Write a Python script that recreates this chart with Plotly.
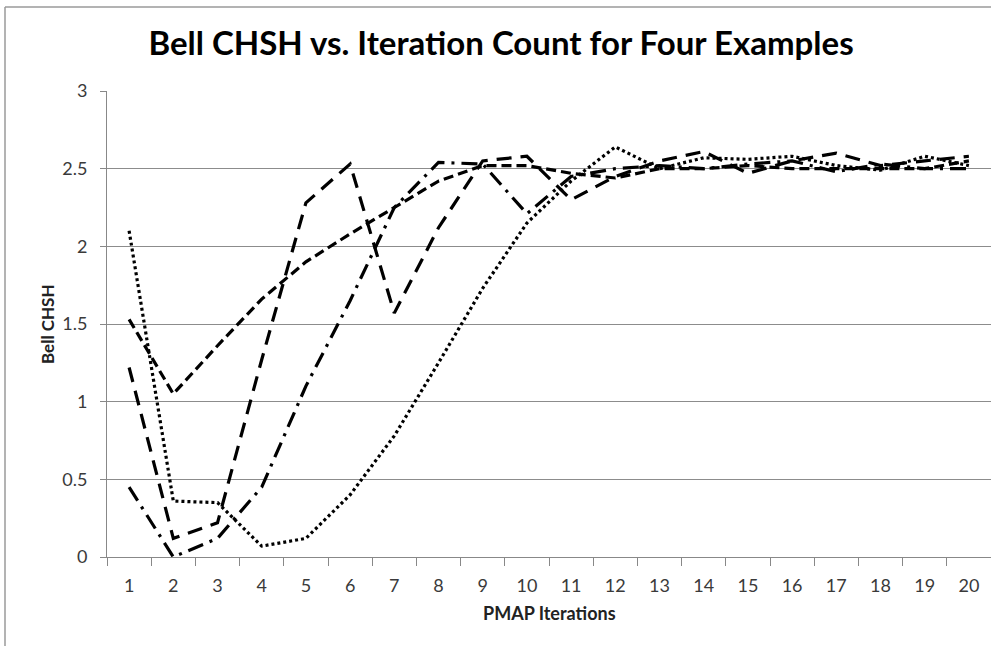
import plotly.graph_objects as go

iterations = [str(i) for i in range(1, 21)]

dotted_vals = [2.10, 0.36, 0.35, 0.07, 0.12, 0.40, 0.78, 1.25, 1.73, 2.15,
               2.42, 2.64, 2.50, 2.57, 2.56, 2.58, 2.52, 2.49, 2.58, 2.52]
short_dash_vals = [1.53, 1.05, 1.36, 1.66, 1.90, 2.08, 2.25, 2.42, 2.52, 2.52,
                   2.47, 2.44, 2.50, 2.50, 2.52, 2.50, 2.50, 2.50, 2.50, 2.55]
long_dash_vals = [1.22, 0.12, 0.22, 1.27, 2.28, 2.53, 1.57, 2.12, 2.55, 2.58,
                  2.30, 2.45, 2.55, 2.61, 2.47, 2.55, 2.60, 2.52, 2.55, 2.58]
dash_dot_vals = [0.45, 0.00, 0.12, 0.45, 1.10, 1.65, 2.25, 2.54, 2.53, 2.21,
                 2.45, 2.50, 2.52, 2.50, 2.53, 2.55, 2.48, 2.53, 2.50, 2.50]

y_ticks = [0, 0.5, 1, 1.5, 2, 2.5, 3]
y_tick_text = ["0", "0.5", "1", "1.5", "2", "2.5", "3"]

FONT = "Lato"
fig = go.Figure()

series = [
    ("Example 1", dotted_vals, "3px,3px"),
    ("Example 2", short_dash_vals, "10px,5px"),
    ("Example 3", long_dash_vals, "15px,9px"),
    ("Example 4", dash_dot_vals, "16px,7px,3px,7px"),
]
for name, vals, dash in series:
    fig.add_trace(go.Scatter(x=iterations, y=vals, mode="lines", name=name,
                             line=dict(color="black", width=3.2, dash=dash)))

fig.update_layout(
    width=991, height=646,
    margin=dict(l=107, r=0, t=91, b=89),
    paper_bgcolor="white", plot_bgcolor="white",
    showlegend=False,
    font=dict(family=FONT, size=17, color="#3a3a3a"),
    title=dict(text="<b>Bell CHSH vs. Iteration Count for Four Examples</b>",
               x=0.5056, xanchor="center", xref="container",
               y=0.932, yanchor="middle", yref="container",
               font=dict(family=FONT, size=33, color="black")),
    xaxis=dict(type="category", range=[-0.5, 19.5], tickson="boundaries",
               ticks="outside", ticklen=8,
               tickcolor="#888888", showline=True, linecolor="#888888", linewidth=1,
               showgrid=False, ticklabelstandoff=12,
               tickfont=dict(family=FONT, size=18, color="#3a3a3a")),
    yaxis=dict(range=[0, 3], tickvals=y_ticks, ticktext=y_tick_text,
               ticks="outside", ticklen=6, tickcolor="#888888",
               showline=True, linecolor="#888888", linewidth=1,
               showgrid=True, gridcolor="#8c8c8c", gridwidth=1,
               zeroline=False, ticklabelstandoff=9,
               tickfont=dict(family=FONT, size=18, color="#3a3a3a")),
)

fig.add_annotation(text="<b>PMAP Iterations</b>", xref="paper", yref="paper",
                   x=0.5, y=(557 - 613) / 466, xanchor="center", yanchor="middle",
                   showarrow=False, font=dict(family=FONT, size=18, color="#222222"))
fig.add_annotation(text="<b>Bell CHSH</b>", xref="paper", yref="paper",
                   x=(47 - 107) / 884, y=0.5, xanchor="center", yanchor="middle",
                   textangle=-90, showarrow=False,
                   font=dict(family=FONT, size=17, color="#222222"))

# outer chart border (top and left)
fig.add_shape(type="line", xref="paper", yref="paper",
              x0=(5 - 107) / 884, x1=1.05, y0=(557 - 7) / 466, y1=(557 - 7) / 466,
              line=dict(color="#9a9a9a", width=1.5))
fig.add_shape(type="line", xref="paper", yref="paper",
              x0=(5 - 107) / 884, x1=(5 - 107) / 884, y0=(557 - 7) / 466, y1=-0.3,
              line=dict(color="#9a9a9a", width=1.5))

fig.write_html("out.html", config={"displayModeBar": False},
               post_script="document.body.style.margin='0px';")
